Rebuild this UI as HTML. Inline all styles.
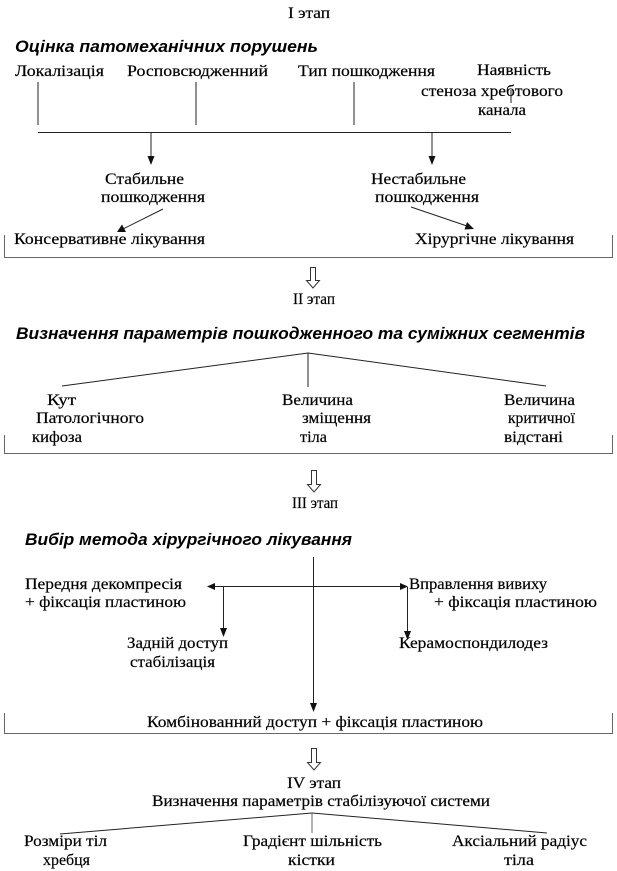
<!DOCTYPE html>
<html>
<head>
<meta charset="utf-8">
<style>
  html, body { margin:0; padding:0; background:#fff; }
  body { width:617px; height:871px; overflow:hidden; }
  svg { display:block; }
  .t { font-family:"Liberation Serif", "DejaVu Serif", serif; font-size:16px; fill:#000; stroke:#000; stroke-width:0.2; }
  .h { font-family:"Liberation Sans", "DejaVu Sans", sans-serif; font-size:17px; font-weight:bold; font-style:italic; fill:#000; }
  .ln { stroke:#222; stroke-width:1; fill:none; }
  .br { stroke:#666; stroke-width:1; fill:none; }
  .ah { fill:#111; stroke:none; }
  .ho { fill:#fff; stroke:#333; stroke-width:1; }
</style>
</head>
<body>
<svg width="617" height="871" viewBox="0 0 617 871" xmlns="http://www.w3.org/2000/svg">

  <!-- ===== I stage ===== -->
  <text class="t" x="288" y="18" textLength="42" lengthAdjust="spacingAndGlyphs">І этап</text>
  <text class="h" x="15" y="52" textLength="303" lengthAdjust="spacingAndGlyphs">Оцінка патомеханічних порушень</text>

  <text class="t" x="15" y="76" textLength="89" lengthAdjust="spacingAndGlyphs">Локалізація</text>
  <text class="t" x="127" y="76" textLength="141" lengthAdjust="spacingAndGlyphs">Росповсюдженний</text>
  <text class="t" x="298" y="76" textLength="137" lengthAdjust="spacingAndGlyphs">Тип пошкодження</text>
  <text class="t" x="477" y="75" textLength="74" lengthAdjust="spacingAndGlyphs">Наявність</text>
  <text class="t" x="421" y="96" textLength="142" lengthAdjust="spacingAndGlyphs">стеноза хребтового</text>
  <text class="t" x="478" y="115" textLength="48" lengthAdjust="spacingAndGlyphs">канала</text>

  <line class="ln" x1="38" y1="82" x2="38" y2="125"/>
  <line class="ln" x1="196" y1="82" x2="196" y2="125"/>
  <line class="ln" x1="354" y1="82" x2="354" y2="125"/>
  <line class="ln" x1="511" y1="90" x2="511" y2="103"/>
  <line class="ln" x1="38" y1="132.5" x2="511" y2="132.5"/>

  <line class="ln" x1="151" y1="132" x2="151" y2="158"/>
  <polygon class="ah" points="147.5,156 154.5,156 151,165"/>
  <line class="ln" x1="432" y1="132" x2="432" y2="158"/>
  <polygon class="ah" points="428.5,156 435.5,156 432,165"/>

  <text class="t" x="105" y="184" textLength="79" lengthAdjust="spacingAndGlyphs">Стабильне</text>
  <text class="t" x="101" y="202" textLength="104" lengthAdjust="spacingAndGlyphs">пошкодження</text>
  <text class="t" x="371" y="184" textLength="95" lengthAdjust="spacingAndGlyphs">Нестабильне</text>
  <text class="t" x="375" y="202" textLength="104" lengthAdjust="spacingAndGlyphs">пошкодження</text>

  <line class="ln" x1="163" y1="209" x2="123" y2="229"/>
  <polygon class="ah" points="117,232 122,224.5 126,232"/>
  <line class="ln" x1="411" y1="207" x2="467" y2="226"/>
  <polygon class="ah" points="474,229 464.5,229.5 467,222"/>

  <text class="t" x="14" y="244" textLength="191" lengthAdjust="spacingAndGlyphs">Консервативне лікування</text>
  <text class="t" x="415" y="244" textLength="159" lengthAdjust="spacingAndGlyphs">Хірургічне лікування</text>

  <path class="br" d="M4.5,235 V257.5 H612.5 V235"/>

  <!-- hollow arrow 1 -->
  <path class="ho" d="M310.5,267.5 H315.5 V280.5 H319.5 L313,288 L306.5,280.5 H310.5 Z"/>
  <text class="t" x="293" y="304" textLength="42" lengthAdjust="spacingAndGlyphs">ІІ этап</text>

  <!-- ===== II stage ===== -->
  <text class="h" x="16" y="339" textLength="569" lengthAdjust="spacingAndGlyphs">Визначення параметрів пошкодженного та суміжних сегментів</text>

  <polyline class="ln" points="62,386 308,353 546,386"/>
  <line class="ln" x1="308" y1="353" x2="308" y2="387"/>

  <text class="t" x="47" y="405" textLength="29" lengthAdjust="spacingAndGlyphs">Кут</text>
  <text class="t" x="36" y="423" textLength="108" lengthAdjust="spacingAndGlyphs">Патологічного</text>
  <text class="t" x="32" y="442" textLength="50" lengthAdjust="spacingAndGlyphs">кифоза</text>

  <text class="t" x="282" y="405" textLength="71" lengthAdjust="spacingAndGlyphs">Величина</text>
  <text class="t" x="302" y="423" textLength="69" lengthAdjust="spacingAndGlyphs">зміщення</text>
  <text class="t" x="300" y="442" textLength="27" lengthAdjust="spacingAndGlyphs">тіла</text>

  <text class="t" x="504" y="405" textLength="71" lengthAdjust="spacingAndGlyphs">Величина</text>
  <text class="t" x="508" y="423" textLength="67" lengthAdjust="spacingAndGlyphs">критичної</text>
  <text class="t" x="504" y="442" textLength="59" lengthAdjust="spacingAndGlyphs">відстані</text>

  <path class="br" d="M4.5,435 V453.5 H612.5 V435"/>

  <!-- hollow arrow 2 -->
  <path class="ho" d="M311.5,470.5 H316.5 V484.5 H320.5 L314,492 L307.5,484.5 H311.5 Z"/>
  <text class="t" x="292" y="508" textLength="46" lengthAdjust="spacingAndGlyphs">ІІІ этап</text>

  <!-- ===== III stage ===== -->
  <text class="h" x="25" y="545" textLength="327" lengthAdjust="spacingAndGlyphs">Вибір метода хірургічного лікування</text>

  <line class="ln" x1="313.5" y1="557" x2="313.5" y2="705"/>
  <polygon class="ah" points="310,703 317,703 313.5,712"/>

  <line class="ln" x1="213" y1="586.5" x2="401" y2="586.5"/>
  <polygon class="ah" points="207,586.5 215,583 215,590"/>
  <polygon class="ah" points="408,586.5 400,583 400,590"/>

  <line class="ln" x1="223.5" y1="587" x2="223.5" y2="630"/>
  <polygon class="ah" points="220,628 227,628 223.5,637"/>
  <line class="ln" x1="407.5" y1="587" x2="407.5" y2="633"/>
  <polygon class="ah" points="404,631 411,631 407.5,640"/>

  <text class="t" x="25" y="589" textLength="157" lengthAdjust="spacingAndGlyphs">Передня декомпресія</text>
  <text class="t" x="25" y="607" textLength="161" lengthAdjust="spacingAndGlyphs">+ фіксація пластиною</text>
  <text class="t" x="409" y="589" textLength="138" lengthAdjust="spacingAndGlyphs">Вправлення вивиху</text>
  <text class="t" x="434" y="607" textLength="163" lengthAdjust="spacingAndGlyphs">+ фіксація пластиною</text>

  <text class="t" x="127" y="648" textLength="101" lengthAdjust="spacingAndGlyphs">Задній доступ</text>
  <text class="t" x="130" y="667" textLength="85" lengthAdjust="spacingAndGlyphs">стабілізація</text>
  <text class="t" x="399" y="648" textLength="149" lengthAdjust="spacingAndGlyphs">Керамоспондилодез</text>

  <text class="t" x="147" y="727" textLength="336" lengthAdjust="spacingAndGlyphs">Комбінованний доступ + фіксація пластиною</text>
  <path class="br" d="M4.5,713 V733.5 H612.5 V713"/>

  <!-- hollow arrow 3 -->
  <path class="ho" d="M311.5,748.5 H316.5 V762.5 H320.5 L314,770 L307.5,762.5 H311.5 Z"/>

  <!-- ===== IV stage ===== -->
  <text class="t" x="287" y="788" textLength="54" lengthAdjust="spacingAndGlyphs">IV этап</text>
  <text class="t" x="152" y="806" textLength="338" lengthAdjust="spacingAndGlyphs">Визначення параметрів стабілізуючої системи</text>

  <polyline class="ln" points="60,834 312,813 547,833"/>
  <line class="br" x1="312" y1="813" x2="312" y2="833"/>

  <text class="t" x="24" y="846" textLength="83" lengthAdjust="spacingAndGlyphs">Розміри тіл</text>
  <text class="t" x="43" y="865" textLength="47" lengthAdjust="spacingAndGlyphs">хребця</text>
  <text class="t" x="243" y="846" textLength="139" lengthAdjust="spacingAndGlyphs">Градієнт шільність</text>
  <text class="t" x="288" y="865" textLength="47" lengthAdjust="spacingAndGlyphs">кістки</text>
  <text class="t" x="452" y="846" textLength="135" lengthAdjust="spacingAndGlyphs">Аксіальний радіус</text>
  <text class="t" x="504" y="865" textLength="30" lengthAdjust="spacingAndGlyphs">тіла</text>
</svg>
</body>
</html>
